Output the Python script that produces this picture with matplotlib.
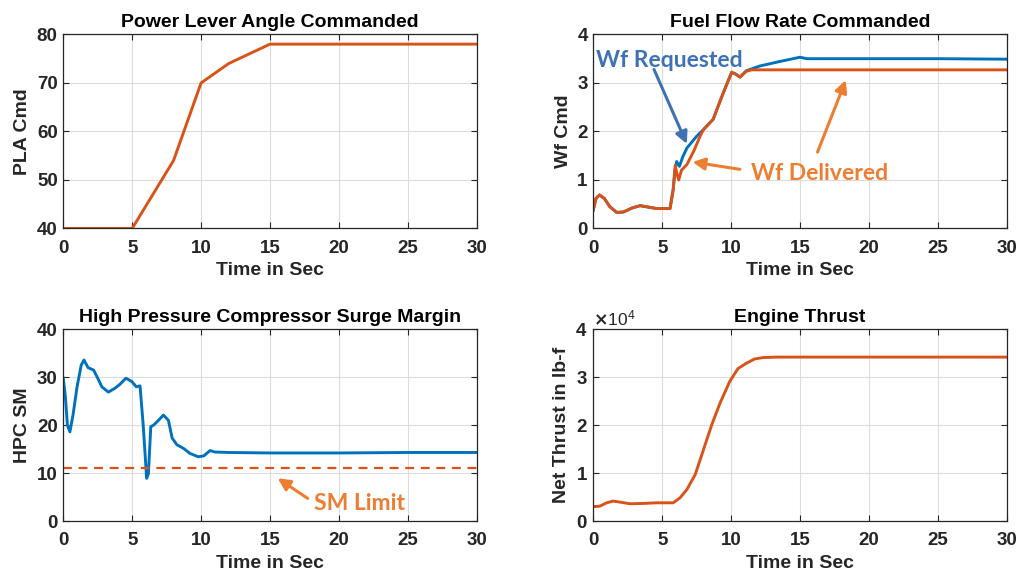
import matplotlib
matplotlib.use('Agg')
import matplotlib.pyplot as plt
from matplotlib.ticker import ScalarFormatter

plt.rcParams['font.family'] = ['Liberation Sans', 'DejaVu Sans']
plt.rcParams['font.weight'] = 'bold'

BLUE = '#0072BD'
ORANGE = '#D95319'
NOTE_BLUE = '#3E72B4'
NOTE_ORANGE = '#ED7D31'
TEXT = '#262626'

# power lever angle schedule
pla_t = [0, 5, 8, 10, 12, 15, 30]
pla_cmd = [40, 40, 54, 70, 74, 78, 78]

# fuel flow, requested and delivered
wf_req_t = [0, 0.2, 0.45, 0.8, 1.2, 1.7, 2.2, 2.8, 3.4, 4.0, 4.6, 5.0, 5.57, 5.8, 5.93,
            6.05, 6.25, 6.5, 6.8, 7.5, 8.0, 8.7, 9.4, 9.8, 10.05, 10.35, 10.65, 11.1,
            12.1, 13.5, 15.0, 15.5, 20, 25, 30]
wf_req = [0.38, 0.62, 0.69, 0.62, 0.45, 0.33, 0.34, 0.42, 0.47, 0.44, 0.41, 0.41, 0.41, 0.8, 1.21,
          1.38, 1.28, 1.48, 1.66, 1.9, 2.04, 2.25, 2.77, 3.05, 3.22, 3.18, 3.12, 3.25,
          3.35, 3.44, 3.53, 3.50, 3.50, 3.50, 3.49]
wf_del_t = [0, 0.2, 0.45, 0.8, 1.2, 1.7, 2.2, 2.8, 3.4, 4.0, 4.6, 5.0, 5.57, 5.8, 5.95,
            6.05, 6.2, 6.4, 6.8, 7.3, 7.75, 8.0, 8.7, 9.4, 9.8, 10.05, 10.35, 10.65, 11.1,
            11.5, 15, 20, 25, 30]
wf_del = [0.38, 0.62, 0.69, 0.62, 0.45, 0.33, 0.34, 0.42, 0.47, 0.44, 0.41, 0.41, 0.41, 0.8, 1.3,
          1.15, 1.0, 1.2, 1.32, 1.6, 1.9, 2.04, 2.25, 2.77, 3.05, 3.22, 3.18, 3.12, 3.24,
          3.27, 3.27, 3.27, 3.27, 3.27]

# HPC surge margin
sm_t = [0, 0.15, 0.3, 0.48, 0.7, 1.0, 1.3, 1.5, 1.8, 2.2, 2.5, 2.8, 3.27, 3.75, 4.1, 4.55,
        4.97, 5.3, 5.57, 5.8, 6.05, 6.18, 6.35, 6.55, 6.8, 7.27, 7.63, 7.9, 8.25, 8.7, 9.2,
        9.8, 10.2, 10.65, 11.0, 12, 15, 20, 25, 30]
sm = [29.8, 26, 20, 18.6, 22, 28, 32.5, 33.6, 32, 31.5, 29.8, 28, 26.9, 27.7, 28.5, 29.8,
      29.1, 28, 28.2, 20, 8.9, 9.9, 19.7, 20, 20.7, 22.1, 21, 17.3, 15.9, 15.2, 14.1,
      13.4, 13.6, 14.7, 14.4, 14.3, 14.2, 14.2, 14.3, 14.3]
sm_limit = 11.0

# net thrust, lb-f
thr_t = [0, 0.48, 0.97, 1.45, 1.94, 2.66, 3.63, 4.6, 5.8, 6.3, 6.8, 7.4, 8.0, 8.6, 9.2,
         9.9, 10.5, 11.1, 11.7, 12.3, 13.3, 20, 30]
thrust = [3000, 3100, 3800, 4160, 3950, 3600, 3670, 3800, 3800, 4850, 6600, 9700, 14900,
          20100, 24600, 29100, 31800, 32900, 33800, 34100, 34200, 34200, 34200]


def style(ax, title, ylabel, ylim, yticks):
    ax.set_xlim(0, 30)
    ax.set_ylim(*ylim)
    ax.set_xticks([0, 5, 10, 15, 20, 25, 30])
    ax.set_yticks(yticks)
    ax.set_title(title, fontsize=14, fontweight='bold', color='black', pad=5)
    ax.set_xlabel('Time in Sec', fontsize=14, fontweight='bold', color=TEXT, labelpad=4)
    ax.set_ylabel(ylabel, fontsize=14, fontweight='bold', color=TEXT, labelpad=4)
    ax.grid(True, color='#dcdcdc', lw=0.8)
    ax.set_axisbelow(True)
    ax.tick_params(direction='in', top=True, right=True, length=4, width=0.8,
                   labelsize=13.5, colors=TEXT)
    ax.tick_params(axis='x', pad=8)
    ax.tick_params(axis='y', pad=4)
    for lab in ax.get_xticklabels() + ax.get_yticklabels():
        lab.set_fontweight('bold')
    for sp in ax.spines.values():
        sp.set_color(TEXT)
        sp.set_linewidth(0.9)


fig = plt.figure(figsize=(10.19, 5.74), dpi=100)
ax1 = fig.add_axes([0.0621, 0.602, 0.4057, 0.338])
ax2 = fig.add_axes([0.5822, 0.602, 0.4057, 0.338])
ax3 = fig.add_axes([0.0621, 0.0923, 0.4057, 0.334])
ax4 = fig.add_axes([0.5822, 0.0923, 0.4057, 0.334])

ax1.plot(pla_t, pla_cmd, color=ORANGE, lw=2.1)
style(ax1, 'Power Lever Angle Commanded', 'PLA Cmd', (40, 80), [40, 50, 60, 70, 80])

ax2.plot(wf_req_t, wf_req, color=BLUE, lw=2.1)
ax2.plot(wf_del_t, wf_del, color=ORANGE, lw=2.1)
style(ax2, 'Fuel Flow Rate Commanded', 'Wf Cmd', (0, 4), [0, 1, 2, 3, 4])
note = dict(fontsize=16.5, fontweight='bold', family=['Lato', 'DejaVu Sans'])
ax2.annotate('', xy=(6.87, 1.69), xytext=(4.33, 3.33),
             arrowprops=dict(arrowstyle='-|>', color=NOTE_BLUE, lw=2.2, mutation_scale=18))
ax2.text(5.5, 3.47, 'Wf Requested', color=NOTE_BLUE, ha='center', va='center', **note)
ax2.annotate('', xy=(7.0, 1.38), xytext=(10.84, 1.21),
             arrowprops=dict(arrowstyle='-|>', color=NOTE_ORANGE, lw=2.2, mutation_scale=18))
ax2.annotate('', xy=(18.4, 3.11), xytext=(16.2, 1.52),
             arrowprops=dict(arrowstyle='-|>', color=NOTE_ORANGE, lw=2.2, mutation_scale=18))
ax2.text(16.4, 1.14, 'Wf Delivered', color=NOTE_ORANGE, ha='center', va='center', **note)

ax3.plot(sm_t, sm, color=BLUE, lw=2.1)
ax3.axhline(sm_limit, color=ORANGE, lw=1.6, ls=(0, (4, 3)))
style(ax3, 'High Pressure Compressor Surge Margin', 'HPC SM', (0, 40), [0, 10, 20, 30, 40])
ax3.annotate('', xy=(15.4, 9.25), xytext=(17.9, 4.4),
             arrowprops=dict(arrowstyle='-|>', color=NOTE_ORANGE, lw=2.2, mutation_scale=18))
ax3.text(21.5, 3.65, 'SM Limit', color=NOTE_ORANGE, ha='center', va='center', **note)

ax4.plot(thr_t, thrust, color=ORANGE, lw=2.1)
style(ax4, 'Engine Thrust', 'Net Thrust in lb-f', (0, 40000), [0, 10000, 20000, 30000, 40000])
fmt = ScalarFormatter(useMathText=True)
fmt.set_powerlimits((4, 4))
ax4.yaxis.set_major_formatter(fmt)
ax4.yaxis.get_offset_text().set_fontsize(12.5)
ax4.yaxis.get_offset_text().set_fontweight('normal')
ax4.yaxis.get_offset_text().set_color(TEXT)

fig.savefig('out.png', dpi=100)
